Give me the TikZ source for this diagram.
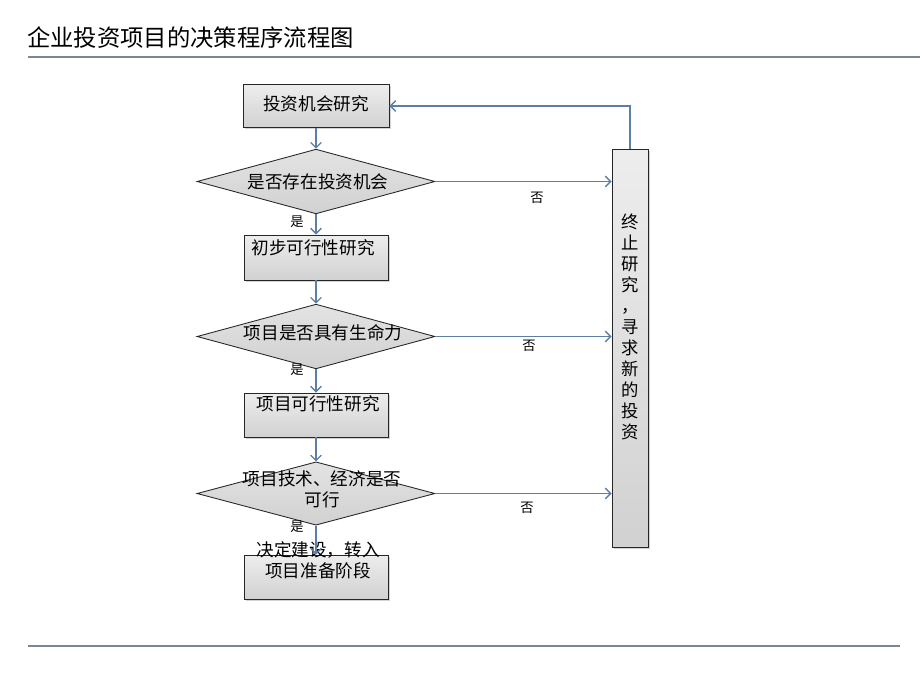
\documentclass[tikz,border=0pt]{standalone}
\usepackage{fontspec}
\setmainfont{Noto Sans CJK SC}
\usetikzlibrary{arrows.meta,shapes.geometric,shadows}
\definecolor{arrowblue}{HTML}{5B7FA6}
\definecolor{rulegray}{HTML}{7A8797}
\tikzset{
  boxstyle/.style={draw=black!85, line width=0.65pt, top color=gray!14, bottom color=gray!36,
    inner sep=0pt, drop shadow={shadow xshift=1.2pt, shadow yshift=-1.2pt, opacity=0.35}},
  decstyle/.style={draw=black!85, line width=0.65pt, diamond, top color=gray!22, bottom color=gray!36,
    inner sep=0pt, minimum width=178.5pt, minimum height=48.5pt, aspect=3.66},
  txt/.style={font=\fontsize{13.2pt}{16pt}\selectfont, inner sep=0pt, align=center},
  small/.style={font=\fontsize{10pt}{12pt}\selectfont, inner sep=0pt},
  arr/.style={draw=arrowblue, line width=1pt, -{Straight Barb[length=4pt,width=8pt]}},
}
\begin{document}
\begin{tikzpicture}[x=0.75pt,y=-0.75pt]
\useasboundingbox (0,0) rectangle (920,690);
% title and rules
\node[anchor=west, inner sep=0pt, font=\fontsize{17.5pt}{20pt}\selectfont] (title) at (27,38) {企业投资项目的决策程序流程图};
\coordinate (tl1) at (28,57); \coordinate (tl2) at (920,57);
\draw[rulegray, line width=0.8pt] (tl1) -- (tl2);
\coordinate (bl1) at (28,646); \coordinate (bl2) at (900,646);
\draw[rulegray, line width=0.8pt] (bl1) -- (bl2);

% boxes
\node[boxstyle, minimum width=109.5pt, minimum height=32pt] (b1) at (316,106) {};
\node[decstyle] (d1) at (316,181.5) {};
\node[boxstyle, minimum width=108pt, minimum height=33.75pt] (b2) at (316,257.5) {};
\node[decstyle] (d2) at (316,336.5) {};
\node[boxstyle, minimum width=108pt, minimum height=33pt] (b3) at (316,415) {};
\node[decstyle, minimum height=47.5pt] (d3) at (316,493.5) {};
\node[boxstyle, minimum width=108pt, minimum height=33pt] (b4) at (316,577) {};
\node[boxstyle, minimum width=27pt, minimum height=298.5pt] (term) at (630,348) {};

% texts
\node[txt] (t1) at (316,104) {投资机会研究};
\node[txt] (t2) at (318,182) {是否存在投资机会};
\node[txt] (t3) at (313,248) {初步可行性研究};
\node[txt] (t4) at (323,333) {项目是否具有生命力};
\node[txt] (t5) at (318,404) {项目可行性研究};
\node[txt] (t6) at (322,489) {项目技术、经济是否\\可行};
\node[txt] (t7) at (318,560) {决定建设，转入\\项目准备阶段};
\node[txt, font=\fontsize{13pt}{15.75pt}\selectfont] (t8) at (630,327) {终\\止\\研\\究\\，\\寻\\求\\新\\的\\投\\资};

% arrows
\draw[arr] (b1.south) -- (d1.north);
\draw[arr] (d1.south) -- (b2.north);
\draw[arr] (b2.south) -- (d2.north);
\draw[arr] (d2.south) -- (b3.north);
\draw[arr] (b3.south) -- (d3.north);
\draw[arr] (d3.south) -- (b4.north);
\draw[arr] (d1.east) -- (d1.east -| term.west);
\draw[arr] (d2.east) -- (d2.east -| term.west);
\draw[arr] (d3.east) -- (d3.east -| term.west);
\draw[arr] (term.north) |- (b1.east);

% labels
\node[small] (y1) at (297,222) {是};
\node[small] (y2) at (297,370) {是};
\node[small] (y3) at (297,527) {是};
\node[small] (n1) at (537,198) {否};
\node[small] (n2) at (529,346) {否};
\node[small] (n3) at (527,508) {否};
\end{tikzpicture}
\end{document}
